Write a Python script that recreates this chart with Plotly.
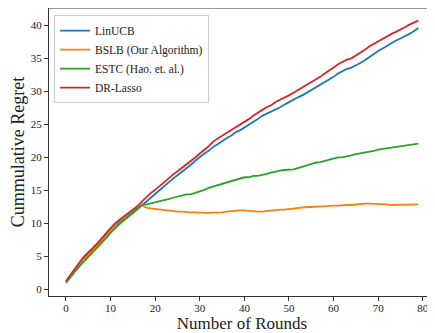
import plotly.graph_objects as go

rounds = list(range(80))

linucb = [1.2, 2.1, 3.0, 3.8, 4.6, 5.3, 6.0, 6.7, 7.5, 8.3,
          9.0, 9.6, 10.2, 10.7, 11.2, 11.7, 12.2, 12.8, 13.3, 13.9,
          14.5, 15.1, 15.7, 16.2, 16.8, 17.3, 17.8, 18.4, 18.9, 19.5,
          20.1, 20.6, 21.0, 21.6, 22.0, 22.5, 22.9, 23.3, 23.8, 24.1,
          24.5, 24.9, 25.4, 25.8, 26.3, 26.6, 26.9, 27.3, 27.6, 28.0,
          28.4, 28.7, 29.1, 29.4, 29.8, 30.1, 30.5, 30.9, 31.3, 31.8,
          32.2, 32.7, 33.1, 33.4, 33.6, 33.9, 34.3, 34.7, 35.2, 35.6,
          36.1, 36.5, 36.9, 37.4, 37.7, 38.0, 38.3, 38.7, 39.1, 39.6]

bslb = [1.1, 2.0, 2.9, 3.7, 4.5, 5.2, 5.9, 6.6, 7.4, 8.1,
        8.9, 9.5, 10.1, 10.6, 11.1, 11.6, 12.1, 12.8, 12.4, 12.3,
        12.2, 12.1, 12.0, 11.9, 11.9, 11.8, 11.8, 11.7, 11.7, 11.7,
        11.6, 11.6, 11.6, 11.6, 11.7, 11.7, 11.8, 11.9, 11.9, 12.0,
        12.0, 11.9, 11.9, 11.8, 11.8, 11.9, 12.0, 12.0, 12.1, 12.1,
        12.2, 12.3, 12.3, 12.4, 12.5, 12.5, 12.6, 12.6, 12.6, 12.7,
        12.7, 12.7, 12.8, 12.8, 12.8, 12.9, 13.0, 13.0, 13.0, 13.0,
        12.9, 12.9, 12.9, 12.8, 12.8, 12.8, 12.8, 12.8, 12.9, 12.9]

estc = [1.0, 1.9, 2.7, 3.5, 4.2, 4.9, 5.6, 6.3, 7.0, 7.8,
        8.6, 9.3, 9.9, 10.5, 11.0, 11.6, 12.2, 12.8, 12.9, 13.0,
        13.2, 13.4, 13.5, 13.7, 13.9, 14.1, 14.3, 14.4, 14.4, 14.6,
        14.8, 15.1, 15.4, 15.6, 15.8, 16.0, 16.2, 16.4, 16.7, 16.9,
        17.0, 17.0, 17.2, 17.2, 17.3, 17.5, 17.7, 17.9, 18.0, 18.1,
        18.1, 18.2, 18.4, 18.6, 18.9, 19.1, 19.2, 19.3, 19.5, 19.7,
        19.9, 20.0, 20.0, 20.1, 20.3, 20.5, 20.6, 20.8, 20.9, 21.0,
        21.2, 21.3, 21.4, 21.5, 21.6, 21.7, 21.8, 21.9, 22.0, 22.1]

drlasso = [1.3, 2.3, 3.2, 4.1, 5.0, 5.6, 6.3, 7.0, 7.8, 8.5,
           9.3, 10.0, 10.6, 11.1, 11.6, 12.1, 12.6, 13.3, 14.0, 14.6,
           15.1, 15.7, 16.3, 16.8, 17.4, 17.9, 18.4, 18.9, 19.5, 20.0,
           20.6, 21.1, 21.7, 22.4, 22.9, 23.3, 23.7, 24.1, 24.6, 25.0,
           25.3, 25.8, 26.3, 26.8, 27.2, 27.6, 27.9, 28.4, 28.7, 29.1,
           29.4, 29.8, 30.2, 30.5, 30.9, 31.3, 31.7, 32.2, 32.7, 33.1,
           33.6, 34.1, 34.5, 34.8, 35.0, 35.4, 35.9, 36.3, 36.8, 37.2,
           37.6, 38.0, 38.3, 38.7, 39.0, 39.3, 39.7, 40.1, 40.4, 40.7]

names = ["LinUCB", "BSLB (Our Algorithm)", "ESTC (Hao. et. al.)", "DR-Lasso"]
colors = ["#1f77b4", "#ff7f0e", "#2ca02c", "#d62728"]
series = [linucb, bslb, estc, drlasso]

x_ticks = [0, 10, 20, 30, 40, 50, 60, 70, 80]
y_ticks = [0, 5, 10, 15, 20, 25, 30, 35, 40]

FONT = "Liberation Serif"

fig = go.Figure()
for name, col, ys in zip(names, colors, series):
    fig.add_trace(go.Scatter(x=rounds, y=ys, mode="lines", name=name,
                             line=dict(color=col, width=1.8)))

axis_common = dict(showgrid=False, zeroline=False, showline=True, linecolor="#333",
                   linewidth=1, ticks="outside", ticklen=4, tickcolor="#333",
                   tickwidth=1, automargin=False,
                   tickfont=dict(family=FONT, size=11, color="#222"))

fig.update_layout(
    width=427, height=325,
    margin=dict(l=41, r=0, t=0, b=37, pad=0),
    paper_bgcolor="white", plot_bgcolor="white",
    font=dict(family=FONT, color="#222"),
    xaxis=dict(range=[-3.81, 82.74], tickvals=x_ticks, ticklabelstandoff=-2,
               title=dict(text="Number of Rounds", font=dict(family=FONT, size=17), standoff=6),
               **axis_common),
    yaxis=dict(range=[-0.97, 42.62], tickvals=y_ticks,
               title=dict(text="Cummulative Regret", font=dict(family=FONT, size=18), standoff=6),
               **axis_common),
    legend=dict(x=0.013, y=0.975, xanchor="left", yanchor="top",
                bgcolor="rgba(255,255,255,0.9)", bordercolor="#cccccc", borderwidth=1,
                font=dict(family=FONT, size=11.5), tracegroupgap=0, itemwidth=30),
    showlegend=True,
)
fig.add_shape(type="line", xref="paper", yref="paper", x0=0, x1=1, y0=1, y1=1,
              line=dict(color="#333", width=1))

fig.write_html("out.html")
